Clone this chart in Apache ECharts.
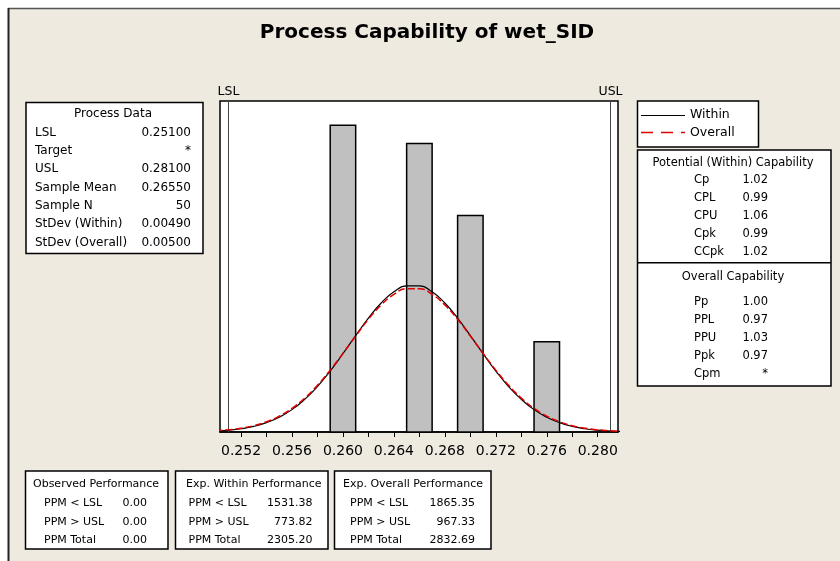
<!DOCTYPE html>
<html>
<head>
<meta charset="utf-8">
<script src="https://cdn.jsdelivr.net/npm/echarts@6/dist/echarts.min.js"></script>
<style>
  html, body { margin: 0; padding: 0; background: #ffffff; }
  #chart { width: 840px; height: 561px; }
</style>
</head>
<body>
<div id="chart"></div>
<script>
// ---------------- data ----------------
const chartTitle = 'Process Capability of wet_SID';

const binStarts = [0.259, 0.265, 0.269, 0.275];
const binEnds   = [0.261, 0.267, 0.271, 0.277];
const binCounts = [17, 16, 12, 5];

const curveX = [0.250, 0.251, 0.252, 0.253, 0.254, 0.255, 0.256, 0.257, 0.258, 0.259,
                0.260, 0.261, 0.262, 0.263, 0.264, 0.265, 0.266, 0.267, 0.268, 0.269,
                0.270, 0.271, 0.272, 0.273, 0.274, 0.275, 0.276, 0.277, 0.278, 0.279,
                0.280, 0.281, 0.282];
const withinCurve = [0.05, 0.10, 0.18, 0.31, 0.52, 0.82, 1.24, 1.81, 2.52, 3.38,
                     4.34, 5.34, 6.31, 7.15, 7.77, 8.10, 8.10, 7.77, 7.15, 6.31,
                     5.34, 4.34, 3.38, 2.52, 1.81, 1.24, 0.82, 0.52, 0.31, 0.18,
                     0.10, 0.05, 0.03];
const overallCurve = [0.07, 0.12, 0.21, 0.35, 0.57, 0.88, 1.31, 1.88, 2.59, 3.43,
                      4.36, 5.32, 6.25, 7.04, 7.63, 7.94, 7.94, 7.63, 7.04, 6.25,
                      5.32, 4.36, 3.43, 2.59, 1.88, 1.31, 0.88, 0.57, 0.35, 0.21,
                      0.12, 0.07, 0.03];

const specNames  = ['LSL', 'USL'];
const specValues = [0.251, 0.281];

const xTickValues  = [0.252, 0.254, 0.256, 0.258, 0.260, 0.262, 0.264, 0.266,
                      0.268, 0.270, 0.272, 0.274, 0.276, 0.278, 0.280];
const xLabelValues = [0.252, 0.256, 0.260, 0.264, 0.268, 0.272, 0.276, 0.280];

const seriesNames = ['Within', 'Overall'];

const processDataTitle  = 'Process Data';
const processDataLabels = ['LSL', 'Target', 'USL', 'Sample Mean', 'Sample N', 'StDev (Within)', 'StDev (Overall)'];
const processDataValues = ['0.25100', '*', '0.28100', '0.26550', '50', '0.00490', '0.00500'];

const withinCapTitle  = 'Potential (Within) Capability';
const withinCapLabels = ['Cp', 'CPL', 'CPU', 'Cpk', 'CCpk'];
const withinCapValues = ['1.02', '0.99', '1.06', '0.99', '1.02'];

const overallCapTitle  = 'Overall Capability';
const overallCapLabels = ['Pp', 'PPL', 'PPU', 'Ppk', 'Cpm'];
const overallCapValues = ['1.00', '0.97', '1.03', '0.97', '*'];

const perfLabels = ['PPM < LSL', 'PPM > USL', 'PPM Total'];
const observedTitle  = 'Observed Performance';
const observedValues = ['0.00', '0.00', '0.00'];
const expWithinTitle  = 'Exp. Within Performance';
const expWithinValues = ['1531.38', '773.82', '2305.20'];
const expOverallTitle  = 'Exp. Overall Performance';
const expOverallValues = ['1865.35', '967.33', '2832.69'];

// ---------------- layout helpers ----------------
const FONT = '"DejaVu Sans", Verdana, sans-serif';
const F_PD = 'normal 12px ' + FONT;
const F_CAP = 'normal 11.5px ' + FONT;
const F_PERF = 'normal 11px ' + FONT;
const F_LEG = 'normal 12.5px ' + FONT;

function txt(x, y, text, align, font) {
  return {
    type: 'text', x: x, y: y, z: 20, silent: true,
    style: { text: text, font: font, fill: '#000', textAlign: align || 'left', textVerticalAlign: 'middle' }
  };
}
function box(x, y, w, h) {
  return {
    type: 'rect', z: 10, silent: true,
    shape: { x: x, y: y, width: w, height: h },
    style: { fill: '#ffffff', stroke: '#000', lineWidth: 1.5 }
  };
}
function hline(x1, x2, y, color, width, dash) {
  return {
    type: 'line', z: 15, silent: true,
    shape: { x1: x1, y1: y, x2: x2, y2: y },
    style: { stroke: color, lineWidth: width, lineDash: dash || null }
  };
}

const graphics = [];
// page margin (white) + frame
graphics.push({ type: 'rect', z: 1, silent: true, shape: { x: 0, y: 0, width: 840, height: 8 }, style: { fill: '#ffffff' } });
graphics.push({ type: 'rect', z: 1, silent: true, shape: { x: 0, y: 0, width: 8, height: 561 }, style: { fill: '#ffffff' } });
graphics.push({ type: 'line', z: 2, silent: true, shape: { x1: 8, y1: 8.5, x2: 840, y2: 8.5 }, style: { stroke: '#555', lineWidth: 1.5 } });
graphics.push({ type: 'line', z: 2, silent: true, shape: { x1: 8.5, y1: 8, x2: 8.5, y2: 561 }, style: { stroke: '#222', lineWidth: 2 } });

// title
graphics.push(txt(427, 33, chartTitle, 'center', 'bold 20px ' + FONT));

// process data box
graphics.push(box(26, 102.5, 177, 151));
graphics.push(txt(113, 114, processDataTitle, 'center', F_PD));
const pdRowY = [132.7, 151, 169.3, 187.7, 206, 224.3, 242.6];
processDataLabels.forEach((l, i) => {
  graphics.push(txt(35, pdRowY[i], l, 'left', F_PD));
  graphics.push(txt(191, pdRowY[i], processDataValues[i], 'right', F_PD));
});

// legend box
graphics.push(box(637.5, 101, 121, 46));
graphics.push(hline(641, 685, 115.5, '#000', 1));
graphics.push(txt(690, 115, seriesNames[0], 'left', F_LEG));
graphics.push(hline(641, 685, 132.5, '#e00000', 1.5, [12, 8]));
graphics.push(txt(690, 132.7, seriesNames[1], 'left', F_LEG));

// capability box
graphics.push(box(637.5, 150, 193.5, 236));
graphics.push(hline(637.5, 831, 262.7, '#000', 1.5));
graphics.push(txt(733, 162.7, withinCapTitle, 'center', F_CAP));
const wcRowY = [180.3, 198.3, 216.3, 234.3, 252.2];
withinCapLabels.forEach((l, i) => {
  graphics.push(txt(694, wcRowY[i], l, 'left', F_CAP));
  graphics.push(txt(768, wcRowY[i], withinCapValues[i], 'right', F_CAP));
});
graphics.push(txt(733, 277.3, overallCapTitle, 'center', F_CAP));
const ocRowY = [302, 320, 338, 356, 374];
overallCapLabels.forEach((l, i) => {
  graphics.push(txt(694, ocRowY[i], l, 'left', F_CAP));
  graphics.push(txt(768, ocRowY[i], overallCapValues[i], 'right', F_CAP));
});

// performance boxes
const perfRowY = [503, 521.7, 539.7];
function perfBox(x, w, title, titleX, labelX, valueX, values) {
  graphics.push(box(x, 471, w, 78));
  graphics.push(txt(titleX, 484, title, 'left', F_PERF));
  perfLabels.forEach((l, i) => {
    graphics.push(txt(labelX, perfRowY[i], l, 'left', F_PERF));
    graphics.push(txt(valueX, perfRowY[i], values[i], 'right', F_PERF));
  });
}
perfBox(25.5, 142.5, observedTitle, 33, 44, 147, observedValues);
perfBox(175.5, 152.5, expWithinTitle, 186, 188.5, 312.5, expWithinValues);
perfBox(334.5, 156.5, expOverallTitle, 343, 350, 475, expOverallValues);

// ---------------- chart ----------------
const chart = echarts.init(document.getElementById('chart'), null, { renderer: 'canvas' });
chart.setOption({
  animation: false,
  backgroundColor: '#eeeae0',
  grid: {
    left: 220, top: 101, width: 398, height: 331,
    show: true, backgroundColor: '#ffffff', borderColor: '#000', borderWidth: 1.5,
    containLabel: false
  },
  xAxis: {
    type: 'value', min: 0.25035, max: 0.28159,
    axisLine: { show: true, onZero: false, lineStyle: { color: '#000', width: 1.5 } },
    axisTick: { show: true, inside: false, length: 5, customValues: xTickValues, lineStyle: { color: '#000', width: 1 } },
    axisLabel: { show: true, customValues: xLabelValues, margin: 12, color: '#000',
                 fontFamily: FONT, fontSize: 14, formatter: v => v.toFixed(3) },
    splitLine: { show: false }
  },
  yAxis: {
    type: 'value', min: 0, max: 18.35,
    show: false, splitLine: { show: false }
  },
  graphic: { elements: graphics },
  series: [
    {
      name: 'Histogram', type: 'custom', z: 2,
      data: binStarts.map((s, i) => [s, binEnds[i], binCounts[i]]),
      encode: { x: [0, 1], y: 2 },
      renderItem: function (params, api) {
        const p0 = api.coord([api.value(0), api.value(2)]);
        const p1 = api.coord([api.value(1), 0]);
        return {
          type: 'rect',
          shape: { x: p0[0], y: p0[1], width: p1[0] - p0[0], height: p1[1] - p0[1] },
          style: { fill: '#c0c0c0', stroke: '#000', lineWidth: 1.5 }
        };
      }
    },
    {
      name: 'Spec limits', type: 'custom', z: 3, clip: false,
      data: specValues.map(v => [v]),
      encode: { x: 0 },
      renderItem: function (params, api) {
        const cs = params.coordSys;
        const px = Math.round(api.coord([api.value(0), 0])[0]) + 0.5;
        return {
          type: 'group',
          children: [
            { type: 'line', shape: { x1: px, y1: cs.y, x2: px, y2: cs.y + cs.height },
              style: { stroke: '#444', lineWidth: 1 } },
            { type: 'text', x: px, y: cs.y - 9,
              style: { text: specNames[params.dataIndex], textAlign: 'center', textVerticalAlign: 'middle',
                       font: 'normal 12.5px ' + FONT, fill: '#000' } }
          ]
        };
      }
    },
    {
      name: seriesNames[0], type: 'line', z: 4, smooth: true, symbol: 'none', clip: true,
      data: curveX.map((x, i) => [x, withinCurve[i]]),
      lineStyle: { color: '#000', width: 1.2 }
    },
    {
      name: seriesNames[1], type: 'line', z: 5, smooth: true, symbol: 'none', clip: true,
      data: curveX.map((x, i) => [x, overallCurve[i]]),
      lineStyle: { color: '#e00000', width: 1.5, type: [7, 3] }
    }
  ]
});
</script>
</body>
</html>
